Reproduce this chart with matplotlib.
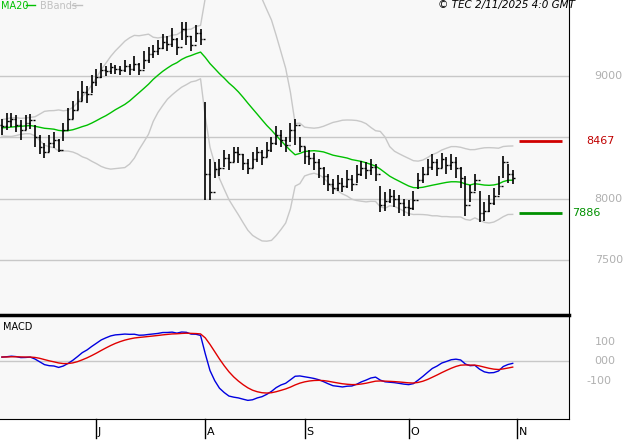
import numpy as np
import pandas as pd
import matplotlib
matplotlib.use("Agg")
import matplotlib.pyplot as plt

# price history before the visible window (seeds MA20 / BBands / MACD)
prior_closes = [8480, 8520, 8500, 8460, 8540, 8580, 8560, 8520, 8490, 8530,
                8570, 8600, 8560, 8530, 8510, 8550, 8590, 8620, 8580, 8540,
                8520, 8560, 8600, 8630, 8610, 8580, 8560, 8600, 8620, 8600]

closes = [8590, 8630, 8650, 8600, 8560, 8620, 8640, 8500, 8420, 8380, 8450, 8480, 8400, 8560, 8650, 8720, 8800, 8870, 8850, 8950,
          8990, 9050, 9040, 9070, 9060, 9050, 9080, 9060, 9100, 9050, 9130, 9180, 9200, 9230, 9280, 9260, 9300, 9240, 9380, 9330, 9250, 9350, 9300,
          8200, 8050, 8240, 8250, 8330, 8300, 8380, 8360, 8290, 8250, 8320, 8380, 8340, 8400, 8450, 8520, 8480, 8440, 8560, 8600, 8430,
          8350, 8330, 8300, 8250, 8180, 8120, 8090, 8130, 8100, 8160, 8120, 8200, 8250, 8230, 8260, 8200, 7950, 7980, 8020, 8000, 7960, 7930,
          7920, 7990, 8150, 8200, 8260, 8300, 8250, 8320, 8270, 8300, 8250, 8170, 7950, 8050, 8150, 7880, 7900, 7960, 8020, 8100, 8300, 8200, 8170]
highs = [8650, 8700, 8700, 8680, 8640, 8680, 8690, 8600, 8520, 8450, 8520, 8540, 8490, 8620, 8740, 8800, 8880, 8960, 8920, 9010,
         9060, 9110, 9080, 9110, 9090, 9080, 9130, 9100, 9160, 9110, 9200, 9240, 9250, 9290, 9340, 9330, 9390, 9310, 9440, 9440, 9330, 9420, 9380,
         8790, 8320, 8300, 8320, 8400, 8360, 8420, 8420, 8360, 8320, 8380, 8420, 8400, 8460, 8500, 8590, 8560, 8500, 8620, 8650, 8500,
         8420, 8400, 8370, 8320, 8260, 8200, 8160, 8190, 8170, 8230, 8190, 8270, 8310, 8300, 8320, 8280, 8100, 8050, 8080, 8070, 8030, 8000,
         7990, 8060, 8210, 8260, 8320, 8360, 8320, 8370, 8340, 8360, 8340, 8260, 8180, 8110, 8200, 8060, 7970, 8030, 8090, 8180, 8350, 8280, 8230]
lows = [8520, 8560, 8580, 8540, 8480, 8560, 8570, 8420, 8360, 8330, 8380, 8410, 8380, 8470, 8560, 8650, 8720, 8800, 8780, 8860,
        8920, 8980, 9000, 9020, 9020, 9010, 9030, 9010, 9040, 9010, 9060, 9110, 9150, 9170, 9220, 9200, 9240, 9170, 9290, 9250, 9200, 9280, 9250,
        7990, 7990, 8170, 8180, 8260, 8230, 8300, 8290, 8230, 8200, 8250, 8300, 8270, 8340, 8380, 8440, 8420, 8380, 8460, 8440, 8380,
        8280, 8270, 8230, 8170, 8110, 8060, 8040, 8060, 8050, 8090, 8060, 8130, 8180, 8160, 8190, 8140, 7890, 7900, 7960, 7930, 7880, 7860,
        7860, 7910, 8080, 8130, 8190, 8230, 8180, 8250, 8200, 8230, 8170, 8090, 7860, 7970, 8060, 7810, 7820, 7890, 7950, 8030, 8170, 8130, 8120]

month_labels = ["J", "A", "S", "O", "N"]
month_starts = [20, 43, 64, 86, 109]
price_grid = [7500, 8000, 8500, 9000]
macd_ticks = [-100, 0, 100]
resistance = 8467
support = 7886

W, H = 627, 440
fig = plt.figure(figsize=(W / 100, H / 100), dpi=100)
fig.patch.set_facecolor("white")


def px_axes(x0, y0, x1, y1):
    return fig.add_axes([x0 / W, 1 - y1 / H, (x1 - x0) / W, (y1 - y0) / H])


# indicators
all_closes = pd.Series(prior_closes + closes, dtype=float)
n0 = len(prior_closes)
ma20 = all_closes.rolling(20).mean().values[n0:]
sd20 = all_closes.rolling(20).std(ddof=0).values[n0:]
ema12 = all_closes.ewm(span=12, adjust=False).mean()
ema26 = all_closes.ewm(span=26, adjust=False).mean()
macd = ema12 - ema26
signal = macd.ewm(span=9, adjust=False).mean()
macd = macd.values[n0:]
signal = signal.values[n0:]

idx = np.arange(len(closes))
opens = np.r_[prior_closes[-1], closes[:-1]]
xmin, xmax = -0.4, 119.9
bg = "#f8f8f8"
grid_c = "#c8c8c8"

# main price panel
ax = px_axes(0, 0, 569, 315)
ax.set_facecolor(bg)
ax.set_xlim(xmin, xmax)
ax.set_ylim(7050, 9620)
for g in price_grid:
    ax.axhline(g, color=grid_c, lw=1)
ax.plot(idx, ma20 + 2 * sd20, color=grid_c, lw=1)
ax.plot(idx, ma20 - 2 * sd20, color=grid_c, lw=1)
ax.plot(idx, ma20, color="#00c000", lw=1)
ax.vlines(idx, lows, highs, color="black", lw=1.2)
ax.hlines(opens, idx - 0.4, idx, color="black", lw=1)
ax.hlines(closes, idx, idx + 0.4, color="black", lw=1)
ax.hlines(resistance, 109.3, 118.5, color="#d00000", lw=2)
ax.hlines(support, 109.3, 118.5, color="#009000", lw=2)
ax.set_xticks([])
ax.set_yticks([])
for s in ["top", "left", "bottom"]:
    ax.spines[s].set_visible(False)
ax.spines["right"].set_color("black")

for g in price_grid:
    if g in (8500,):
        continue
    ax.text(1.045, g, str(g), transform=ax.get_yaxis_transform(), color="#b0b0b0",
            fontsize=8, va="center", ha="left")
ax.text(1.03, resistance, str(resistance), transform=ax.get_yaxis_transform(),
        color="#c00000", fontsize=8, va="center", ha="left")
ax.text(1.005, support, str(support), transform=ax.get_yaxis_transform(),
        color="#009000", fontsize=8, va="center", ha="left")

fig.text(1 / W, 1 - 6 / H, "MA20", color="#00c000", fontsize=7, va="center")
fig.add_artist(plt.Line2D([26 / W, 35 / W], [1 - 5 / H] * 2, color="#00c000", lw=1))
fig.text(40 / W, 1 - 6 / H, "BBands", color="#c0c0c0", fontsize=7, va="center")
fig.add_artist(plt.Line2D([72 / W, 82 / W], [1 - 5 / H] * 2, color="#c0c0c0", lw=1))
fig.text(575 / W, 1 - 5 / H, "© TEC 2/11/2025 4:0 GMT", fontsize=7.5, style="italic",
         ha="right", va="center")

# MACD panel
ax2 = px_axes(0, 315, 569, 419)
ax2.set_facecolor(bg)
ax2.set_xlim(xmin, xmax)
ax2.set_ylim(-297, 236)
ax2.axhline(0, color=grid_c, lw=1)
ax2.plot(idx, macd, color="#0000e0", lw=1)
ax2.plot(idx, signal, color="#e00000", lw=1)
ax2.set_yticks([])
ax2.set_xticks([])
for s in ["left"]:
    ax2.spines[s].set_visible(False)
ax2.spines["top"].set_linewidth(2.5)
ax2.text(0.005, 0.88, "MACD", transform=ax2.transAxes, fontsize=7, va="center")
for t in macd_ticks:
    lab = f"{t:03d}" if t == 0 else str(t)
    ax2.text(1.045 if t >= 0 else 1.03, t, lab, transform=ax2.get_yaxis_transform(),
             color="#b0b0b0", fontsize=8, va="center", ha="left")

# month ticks below
for m, lab in zip(month_starts, month_labels):
    xf = (m - xmin) / (xmax - xmin) * 569 / W
    fig.add_artist(plt.Line2D([xf, xf], [1 - 419 / H, 1 - 438 / H], color="black", lw=1))
    fig.text(xf + 1.5 / W, 1 - 432 / H, lab, fontsize=8, va="center", ha="left")

fig.savefig("out.png", dpi=100, facecolor="white")
